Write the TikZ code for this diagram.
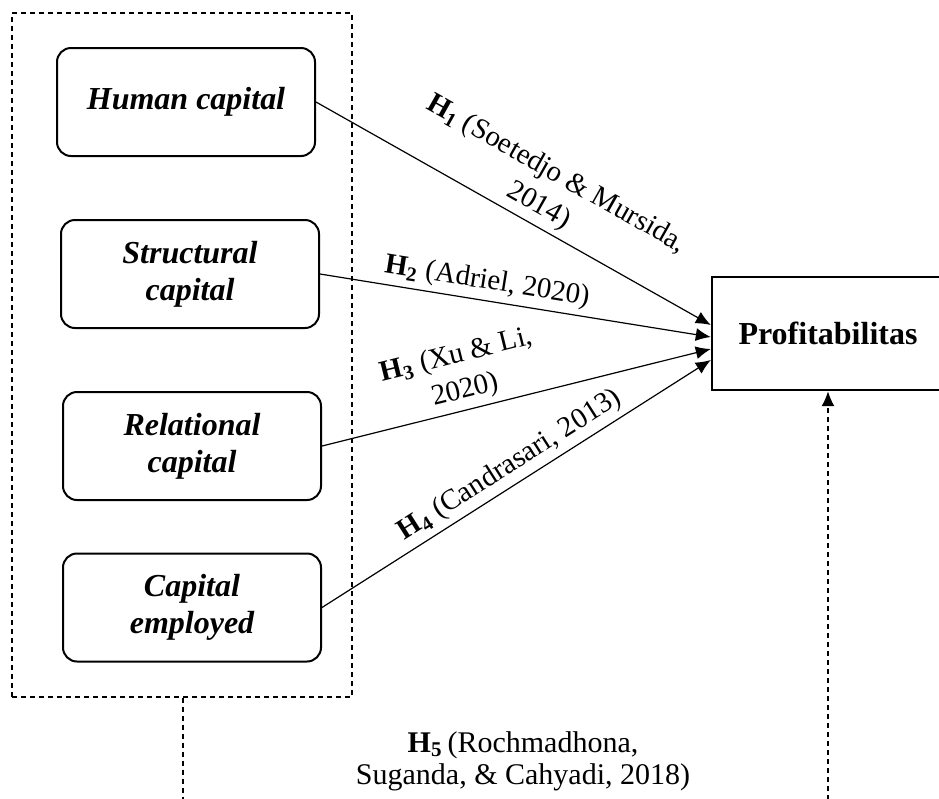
\documentclass[tikz,border=0pt]{standalone}
\usepackage{fontspec}
\setmainfont{Liberation Serif}
\usetikzlibrary{arrows.meta}

\begin{document}
\begin{tikzpicture}[x=0.5pt,y=-0.5pt,
    capbox/.style={draw, line width=1pt, rounded corners=7pt, minimum width=129pt, minimum height=54pt, align=center,
        font=\fontsize{16}{18.5}\selectfont\bfseries\itshape},
    hyp/.style={-{Latex[length=7.5pt,width=6.5pt]}, line width=0.6pt},
    hlabel/.style={sloped, above=1.5pt, align=center, inner sep=1pt, font=\fontsize{14.5}{18}\selectfont},
    group/.style={draw, line width=0.7pt, dash pattern=on 2.5pt off 2pt}
    ]

    \useasboundingbox (0,0) rectangle (939,799);

    % dimensi modal intelektual
    \node[group, minimum width=170pt, minimum height=342pt] (grp) at (182,355) {};
    \node[capbox] (human) at (186,102) {Human capital};
    \node[capbox] (struct) at (190,274) {Structural\\capital};
    \node[capbox] (rel) at (192,446) {Relational\\capital};
    \node[capbox] (emp) at (192,607.5) {Capital\\employed};

    \node[draw, line width=1.2pt, minimum width=116pt, minimum height=56.5pt,
        font=\fontsize{16}{18}\selectfont\bfseries] (prof) at (828,333.5) {Profitabilitas};

    % hipotesis
    \draw[hyp] (human.east) -- node[hlabel, pos=0.54] (h1) {\textbf{H\textsubscript{1}} (Soetedjo \& Mursida,\\2014)} ([yshift=4.25pt]prof.west);
    \draw[hyp] (struct.east) -- node[hlabel, pos=0.42] (h2) {\textbf{H\textsubscript{2}} (Adriel, 2020)} ([yshift=-1.75pt]prof.west);
    \draw[hyp] (rel.east) -- node[hlabel, pos=0.38] (h3) {\textbf{H\textsubscript{3}} (Xu \& Li,\\2020)} ([yshift=-7.75pt]prof.west);
    \draw[hyp] (emp.east) -- node[hlabel, pos=0.51] (h4) {\textbf{H\textsubscript{4}} (Candrasari, 2013)} ([yshift=-13.25pt]prof.west);

    % H5
    \coordinate (footL) at (183,800);
    \coordinate (footR) at (828,800);
    \draw[group] (grp.south -| footL) -- (footL);
    \draw[group, -{Latex[length=7.5pt,width=6.5pt]}] (footR) -- (prof.south);
    \node[align=center, font=\fontsize{15}{16}\selectfont] (h5) at (523,761) {\textbf{H\textsubscript{5}}\,(Rochmadhona,\\Suganda, \& Cahyadi, 2018)};
\end{tikzpicture}
\end{document}
